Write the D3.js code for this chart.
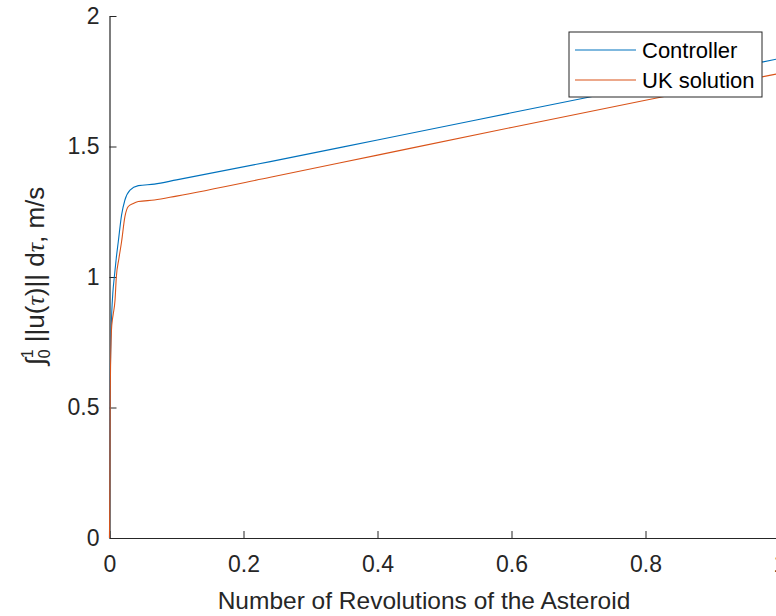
<!DOCTYPE html>
<html lang="en">
<head>
    <meta charset="utf-8">
    <title>Controller vs UK solution</title>
    <script src="https://d3js.org/d3.v7.min.js"></script>
</head>
<style type="text/css">
    body { margin: 0; background: #fff; }
    svg { font-family: "Liberation Sans", Arial, sans-serif; }
    .axis path, .axis line { stroke: #262626; }
    .axis text { fill: #262626; font-size: 23px; }
</style>
<body>
<script>
    var width = 776,
        height = 616;

    // revolutions of the asteroid
    var revs = [0, 0.0005, 0.001, 0.002, 0.0033, 0.005, 0.0072, 0.01, 0.0131, 0.018, 0.023, 0.0306, 0.043, 0.067, 0.1, 0.24, 0.4, 0.6, 0.8, 1.0];
    var controller = [0, 0.3, 0.55, 0.75, 0.86, 0.94, 1.0, 1.07, 1.135, 1.237, 1.295, 1.333, 1.35, 1.356, 1.372, 1.442, 1.525, 1.629, 1.733, 1.837];

    var revsUK = [0, 0.0005, 0.001, 0.002, 0.003, 0.0045, 0.0057, 0.0082, 0.0102, 0.014, 0.018, 0.023, 0.028, 0.0355, 0.043, 0.067, 0.1, 0.24, 0.4, 0.6, 0.8, 1.0];
    var ukSolution = [0, 0.2, 0.5, 0.72, 0.8, 0.84, 0.86, 0.91, 1.0, 1.07, 1.135, 1.231, 1.27, 1.282, 1.289, 1.295, 1.31, 1.382, 1.467, 1.573, 1.677, 1.78];

    var xTicks = [0, 0.2, 0.4, 0.6, 0.8, 1];
    var yTicks = [0, 0.5, 1, 1.5, 2];
    var seriesNames = ["Controller", "UK solution"];
    var colors = ["#0072BD", "#D95319"];

    var x = d3.scaleLinear().domain([0, 1]).range([109.5, 779.5]);
    var y = d3.scaleLinear().domain([0, 2]).range([538, 16]);

    var svg = d3.select("body").append("svg")
        .attr("width", width)
        .attr("height", height);

    //Axes (ticks point inward, no box)

    var xAxis = svg.append("g")
        .attr("class", "axis")
        .attr("transform", "translate(0," + y(0) + ")")
        .call(d3.axisBottom(x).tickValues(xTicks).tickSizeInner(-7).tickSizeOuter(0)
            .tickFormat(function(d) { return d3.format("")(d); }));
    xAxis.selectAll("text").attr("y", 18).attr("dy", "0.71em");
    xAxis.select(".domain").attr("stroke-width", 1.2);

    var yAxis = svg.append("g")
        .attr("class", "axis")
        .attr("transform", "translate(" + x(0) + ",0)")
        .call(d3.axisLeft(y).tickValues(yTicks).tickSizeInner(-7).tickSizeOuter(0)
            .tickFormat(function(d) { return d3.format("")(d); }));
    yAxis.selectAll("text").attr("x", -10);
    yAxis.select(".domain").attr("stroke-width", 1.2);

    //Lines

    var line = d3.line()
        .x(function(d) { return x(d[0]); })
        .y(function(d) { return y(d[1]); })
        .curve(d3.curveMonotoneX);

    var data = [
        d3.zip(revs, controller),
        d3.zip(revsUK, ukSolution)
    ];

    svg.selectAll("path.series")
        .data(data)
        .enter().append("path")
        .attr("class", "series")
        .attr("fill", "none")
        .attr("stroke", function(d, i) { return colors[i]; })
        .attr("stroke-width", 1.1)
        .attr("d", line);

    //Axis labels

    svg.append("text")
        .attr("x", 424)
        .attr("y", 609)
        .attr("text-anchor", "middle")
        .attr("fill", "#262626")
        .style("font-size", "24.5px")
        .text("Number of Revolutions of the Asteroid");

    var yl = svg.append("text")
        .attr("transform", "translate(44,276) rotate(-90)")
        .attr("text-anchor", "middle")
        .attr("fill", "#262626")
        .style("font-size", "26px");
    yl.append("tspan").style("font-style", "italic").text("\u222B");
    yl.append("tspan").attr("dy", 6).style("font-size", "16px").text("0");
    yl.append("tspan").attr("dx", -9).attr("dy", -17).style("font-size", "16px").text("1");
    yl.append("tspan").attr("dy", 11).text(" ||u(");
    yl.append("tspan").style("font-style", "italic").style("font-family", "'Liberation Serif', serif").text("\u03C4");
    yl.append("tspan").text(")|| d");
    yl.append("tspan").style("font-style", "italic").style("font-family", "'Liberation Serif', serif").text("\u03C4");
    yl.append("tspan").text(", m/s");

    //Legend

    var legend = svg.append("g").attr("transform", "translate(569,32)");
    legend.append("rect")
        .attr("width", 193)
        .attr("height", 65)
        .attr("fill", "#fff")
        .attr("stroke", "#262626")
        .attr("stroke-width", 1);

    var items = legend.selectAll("g.item")
        .data(seriesNames)
        .enter().append("g")
        .attr("class", "item")
        .attr("transform", function(d, i) { return "translate(0," + (18 + i * 30) + ")"; });
    items.append("line")
        .attr("x1", 6).attr("x2", 67)
        .attr("stroke", function(d, i) { return colors[i]; })
        .attr("stroke-width", 1.1);
    items.append("text")
        .attr("x", 73)
        .attr("dy", "0.35em")
        .attr("fill", "#000")
        .style("font-size", "22px")
        .text(function(d) { return d; });
</script>
</body>
</html>
